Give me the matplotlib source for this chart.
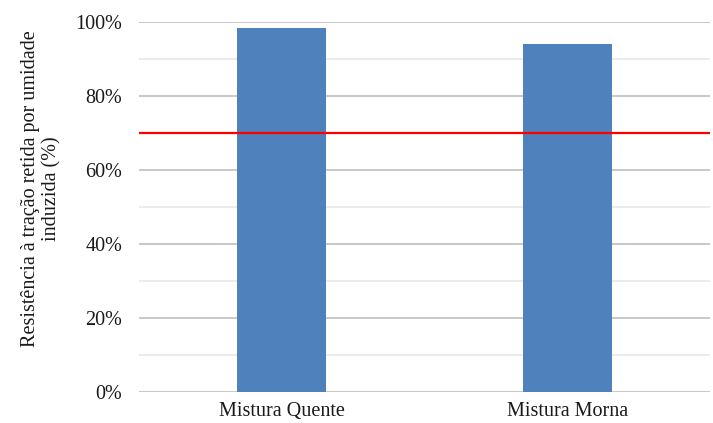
import numpy as np
import matplotlib
matplotlib.use('Agg')
import matplotlib.pyplot as plt
from matplotlib.ticker import MultipleLocator, PercentFormatter

categories = ['Mistura Quente', 'Mistura Morna']
values = [98.3, 94.1]
limit = 70

plt.rcParams['font.family'] = ['Liberation Serif', 'DejaVu Serif']

fig = plt.figure(figsize=(7.13, 4.23), dpi=100)
ax = fig.add_axes([139 / 713, 31 / 423, 571 / 713, 370 / 423])

x = np.arange(len(categories))
ax.bar(x, values, width=0.31, color='#4f81bd', zorder=3)
ax.axhline(limit, color='#ff0000', lw=1.6, zorder=4)

ax.set_xlim(-0.5, 1.5)
ax.set_ylim(0, 100)
ax.yaxis.set_major_locator(MultipleLocator(20))
ax.yaxis.set_minor_locator(MultipleLocator(10))
ax.yaxis.set_major_formatter(PercentFormatter(decimals=0))
ax.grid(axis='y', which='major', color='#bfbfbf', lw=1.2, zorder=0)
ax.grid(axis='y', which='minor', color='#e8e8e8', lw=1.2, zorder=0)
for s in ax.spines.values():
    s.set_visible(False)
ax.tick_params(axis='both', which='both', length=0, labelsize=14.5, colors='#1a1a1a')
ax.tick_params(axis='y', pad=12)
ax.tick_params(axis='x', pad=7)
ax.set_xticks(x)
ax.set_xticklabels(categories)

ax.set_ylabel('Resistência à tração retida por umidade\ninduzida (%)', fontsize=14.5,
              color='#1a1a1a', linespacing=1.15)
ax.yaxis.set_label_coords(-0.136, 0.55)

fig.savefig('out.png', dpi=100)
